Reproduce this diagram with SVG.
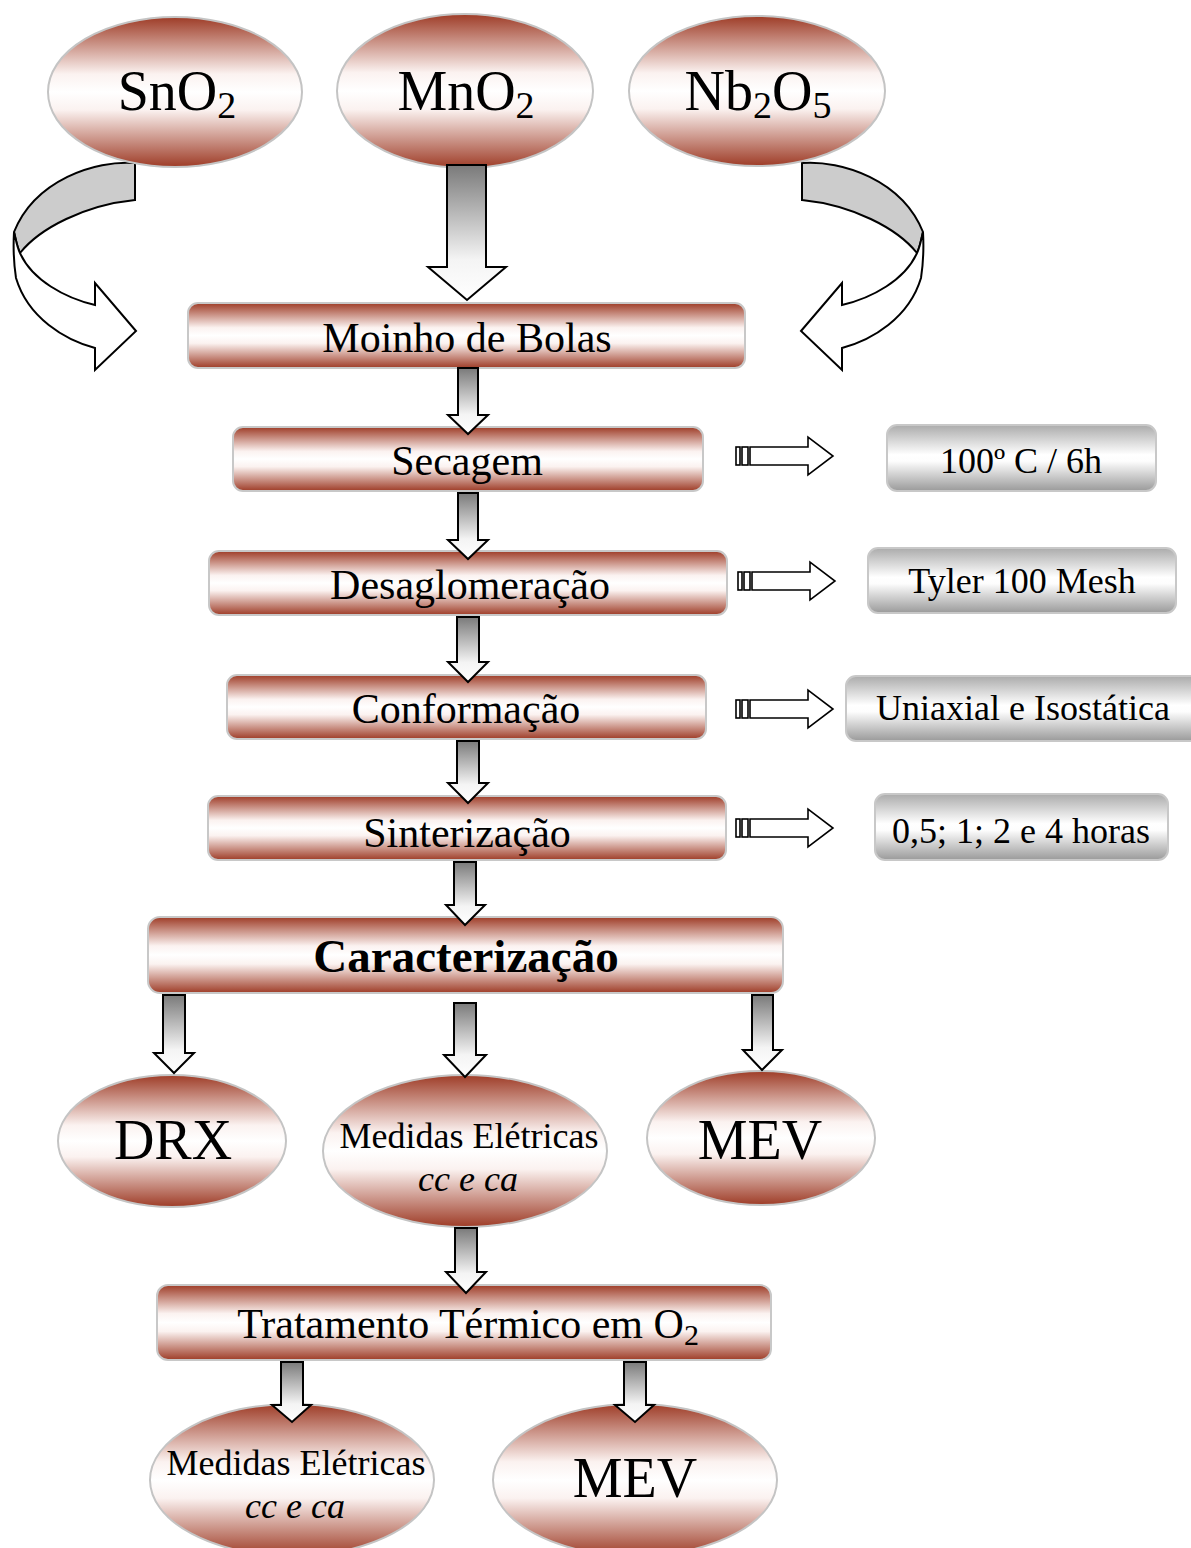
<svg xmlns="http://www.w3.org/2000/svg" xmlns:xlink="http://www.w3.org/1999/xlink" width="1191" height="1548" viewBox="0 0 1191 1548">
<defs>
<linearGradient id="gRed" x1="0" y1="0" x2="0" y2="1">
<stop offset="0" stop-color="#9e3c27"/>
<stop offset="0.38" stop-color="#fbf2f0"/>
<stop offset="0.5" stop-color="#ffffff"/>
<stop offset="0.62" stop-color="#fbf2f0"/>
<stop offset="1" stop-color="#9e3c27"/>
</linearGradient>
<linearGradient id="gGray" x1="0" y1="0" x2="0" y2="1">
<stop offset="0" stop-color="#ababab"/>
<stop offset="0.45" stop-color="#ffffff"/>
<stop offset="0.55" stop-color="#fdfdfd"/>
<stop offset="1" stop-color="#9a9a9a"/>
</linearGradient>
<linearGradient id="gArrow" x1="0" y1="0" x2="0" y2="1">
<stop offset="0" stop-color="#7a7a7a"/>
<stop offset="0.7" stop-color="#f4f4f4"/>
<stop offset="1" stop-color="#ffffff"/>
</linearGradient>
<g id="stripeArrow">
<rect x="736" y="-9" width="4" height="18"/>
<rect x="742" y="-9" width="6" height="18"/>
<path d="M750,-9 L808,-9 L808,-19 L833,0 L808,19 L808,9 L750,9 Z"/>
</g>
<g id="curvedArrow">
<path class="cband" d="M135,163 C95,160 35,180 14,232 C16,240 17,247 20,253 C40,228 85,205 135,200 Z"/>
<path class="cfront" d="M14,232 C13,250 14,265 16,278 C28,318 65,340 95,348 L95,370 L136,331 L95,283 L95,305 C65,298 32,280 20,253 C17,247 16,240 14,232 Z"/>
</g>
</defs>
<style>
.rbox{fill:url(#gRed);stroke:#c8c8c8;stroke-width:2}
.ell{fill:url(#gRed);stroke:#c4c4c4;stroke-width:2}
.gbox{fill:url(#gGray);stroke:#c8c8c8;stroke-width:2}
.arr{fill:url(#gArrow);stroke:#000;stroke-width:2;stroke-linejoin:miter}
.sarr{fill:#fff;stroke:#000;stroke-width:1.6}
.cband{fill:#cccccc;stroke:#000;stroke-width:2}
.cfront{fill:#fff;stroke:#000;stroke-width:2}
text{font-family:"Liberation Serif","Times New Roman",serif;fill:#000;text-anchor:middle}
.big{font-size:56px}
.lbl{font-size:42px}
.gl{font-size:36px}
.med{font-size:36px}
.it{font-style:italic}
.bold{font-weight:bold;font-size:47px}
</style>
<rect width="1191" height="1548" fill="#fff"/>

<g id="curved-arrows">
<use xlink:href="#curvedArrow"/>
<use xlink:href="#curvedArrow" transform="matrix(-1,0,0,1,937,0)"/>
</g>

<g id="node-sno2">
<ellipse class="ell" cx="175" cy="92" rx="127" ry="75"/>
<text class="big" x="177" y="110">SnO<tspan font-size="38" dy="8">2</tspan></text>
</g>
<g id="node-mno2">
<ellipse class="ell" cx="465" cy="91" rx="128" ry="77"/>
<text class="big" x="466" y="110">MnO<tspan font-size="38" dy="8">2</tspan></text>
</g>
<g id="node-nb2o5">
<ellipse class="ell" cx="757" cy="91" rx="128" ry="75"/>
<text class="big" x="758" y="110">Nb<tspan font-size="38" dy="8">2</tspan><tspan dy="-8">O</tspan><tspan font-size="38" dy="8">5</tspan></text>
</g>

<g id="node-moinho">
<rect class="rbox" x="188" y="303" width="557" height="65" rx="10"/>
<text class="lbl" x="467" y="352">Moinho de Bolas</text>
</g>
<g id="node-secagem">
<rect class="rbox" x="233" y="427" width="470" height="64" rx="10"/>
<text class="lbl" x="467" y="475">Secagem</text>
</g>
<g id="node-desaglomeracao">
<rect class="rbox" x="209" y="551" width="518" height="64" rx="10"/>
<text class="lbl" x="470" y="599">Desaglomeração</text>
</g>
<g id="node-conformacao">
<rect class="rbox" x="227" y="675" width="479" height="64" rx="10"/>
<text class="lbl" x="466" y="723">Conformação</text>
</g>
<g id="node-sinterizacao">
<rect class="rbox" x="208" y="796" width="518" height="64" rx="10"/>
<text class="lbl" x="467" y="847">Sinterização</text>
</g>
<g id="node-caracterizacao">
<rect class="rbox" x="148" y="917" width="635" height="76" rx="12"/>
<text class="bold" x="466" y="972">Caracterização</text>
</g>

<g id="node-100c">
<rect class="gbox" x="887" y="425" width="269" height="66" rx="10"/>
<text class="gl" x="1021" y="473">100º C / 6h</text>
</g>
<g id="node-tyler">
<rect class="gbox" x="868" y="548" width="308" height="65" rx="10"/>
<text class="gl" x="1022" y="593">Tyler 100 Mesh</text>
</g>
<g id="node-uniaxial">
<rect class="gbox" x="846" y="676" width="360" height="65" rx="10"/>
<text class="gl" x="1023" y="720">Uniaxial e Isostática</text>
</g>
<g id="node-horas">
<rect class="gbox" x="875" y="794" width="293" height="66" rx="10"/>
<text class="gl" x="1021" y="843">0,5; 1; 2 e 4 horas</text>
</g>

<g id="node-drx">
<ellipse class="ell" cx="172" cy="1141" rx="114" ry="66"/>
<text class="big" x="173" y="1159">DRX</text>
</g>
<g id="node-medidas1">
<ellipse class="ell" cx="465" cy="1151" rx="142" ry="76"/>
<text class="med" x="469" y="1148">Medidas Elétricas</text>
<text class="med it" x="468" y="1191">cc e ca</text>
</g>
<g id="node-mev1">
<ellipse class="ell" cx="761" cy="1138" rx="114" ry="67"/>
<text class="big" x="760" y="1159">MEV</text>
</g>

<g id="node-tratamento">
<rect class="rbox" x="157" y="1285" width="614" height="75" rx="11"/>
<text class="lbl" x="468" y="1338">Tratamento Térmico em O<tspan font-size="30" dy="7">2</tspan></text>
</g>

<g id="node-medidas2">
<ellipse class="ell" cx="292" cy="1480" rx="142" ry="76"/>
<text class="med" x="296" y="1475">Medidas Elétricas</text>
<text class="med it" x="295" y="1518">cc e ca</text>
</g>
<g id="node-mev2">
<ellipse class="ell" cx="635" cy="1480" rx="142" ry="76"/>
<text class="big" x="635" y="1497">MEV</text>
</g>

<g id="connectors">
<path class="arr" d="M447,165 L486,165 L486,267 L506,267 L467,300 L428,267 L447,267 Z"/>
<path class="arr" d="M458,368 L478,368 L478,415 L488,415 L468,434 L448,415 L458,415 Z"/>
<path class="arr" d="M458,493 L478,493 L478,540 L488,540 L468,559 L448,540 L458,540 Z"/>
<path class="arr" d="M457,617 L479,617 L479,662 L488,662 L468,682 L448,662 L457,662 Z"/>
<path class="arr" d="M457,741 L479,741 L479,783 L488,783 L468,803 L448,783 L457,783 Z"/>
<path class="arr" d="M454,862 L476,862 L476,905 L485,905 L465,925 L446,905 L454,905 Z"/>
<path class="arr" d="M163,995 L185,995 L185,1053 L194,1053 L174,1073 L154,1053 L163,1053 Z"/>
<path class="arr" d="M454,1003 L476,1003 L476,1055 L486,1055 L465,1077 L444,1055 L454,1055 Z"/>
<path class="arr" d="M752,995 L773,995 L773,1050 L782,1050 L762,1070 L743,1050 L752,1050 Z"/>
<path class="arr" d="M455,1228 L477,1228 L477,1272 L486,1272 L466,1293 L446,1272 L455,1272 Z"/>
<path class="arr" d="M281,1362 L303,1362 L303,1405 L311,1405 L292,1422 L272,1405 L281,1405 Z"/>
<path class="arr" d="M624,1362 L646,1362 L646,1405 L654,1405 L635,1422 L615,1405 L624,1405 Z"/>
<g class="sarr">
<use xlink:href="#stripeArrow" transform="translate(0,456)"/>
<use xlink:href="#stripeArrow" transform="translate(2,581)"/>
<use xlink:href="#stripeArrow" transform="translate(0,709)"/>
<use xlink:href="#stripeArrow" transform="translate(0,828)"/>
</g>
</g>
</svg>
